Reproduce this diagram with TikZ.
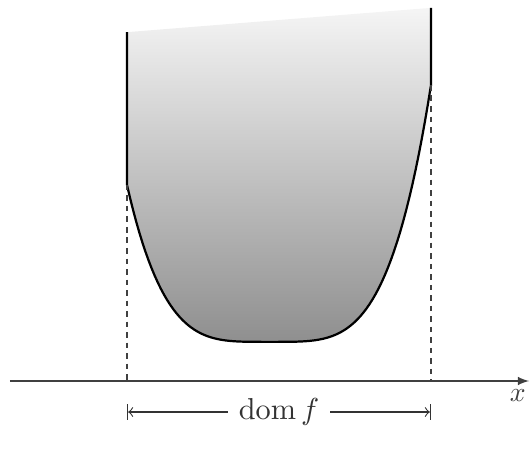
\documentclass[tikz,border=0pt]{standalone}
\usepackage{mathtools}
\usetikzlibrary{arrows}
\usetikzlibrary{math}

\begin{document}
\begin{tikzpicture}[x=0.4826cm,y=0.4826cm]
\tikzmath{
\xa=0;
\xb=8;
\xmid=3.754;
\ymin=1.03;
\kk=0.0208;
\fa=\ymin+\kk*((\xa-\xmid)^2)^2;
\fb=\ymin+\kk*((\xb-\xmid)^2)^2;
\ta=9.18;
\tb=9.82;
\yd=-0.816;
}
\useasboundingbox (-3.342,-1.921) rectangle (10.605,10.026);

\coordinate (A) at (\xa,\fa);
\coordinate (B) at (\xb,\fb);
\coordinate (A0) at (\xa,0);
\coordinate (B0) at (\xb,0);
\coordinate (AT) at (\xa,\ta);
\coordinate (BT) at (\xb,\tb);
\coordinate (DL) at (\xa,\yd);
\coordinate (DR) at (\xb,\yd);
\coordinate (O) at (-3.08,0);
\coordinate (E) at (10.58,0);

% region above the graph
\shade[top color=gray!8, bottom color=gray!88] (AT) -- (A) -- plot[domain=\xa:\xb, samples=100] (\x,{\ymin+\kk*((\x-\xmid)^2)^2}) -- (BT) -- cycle;
\draw[line width=0.8pt] (AT) -- (A) -- plot[domain=\xa:\xb, samples=100] (\x,{\ymin+\kk*((\x-\xmid)^2)^2}) -- (BT);

\draw[black!75, dash pattern=on 2pt off 1.8pt] (A) -- (A0);
\draw[black!75, dash pattern=on 2pt off 1.8pt] (B) -- (B0);

\draw[-latex, black!75] (O) -- (E) node[anchor=north east, inner sep=1pt, yshift=-2pt] (xl) {$x$};

\draw[|<->|, black!80] (DL) -- (DR) node[midway, fill=white, inner sep=4pt, font=\fontsize{11}{13}\selectfont] (dom) {$\mathrm{dom}\,f$};
\end{tikzpicture}
\end{document}
